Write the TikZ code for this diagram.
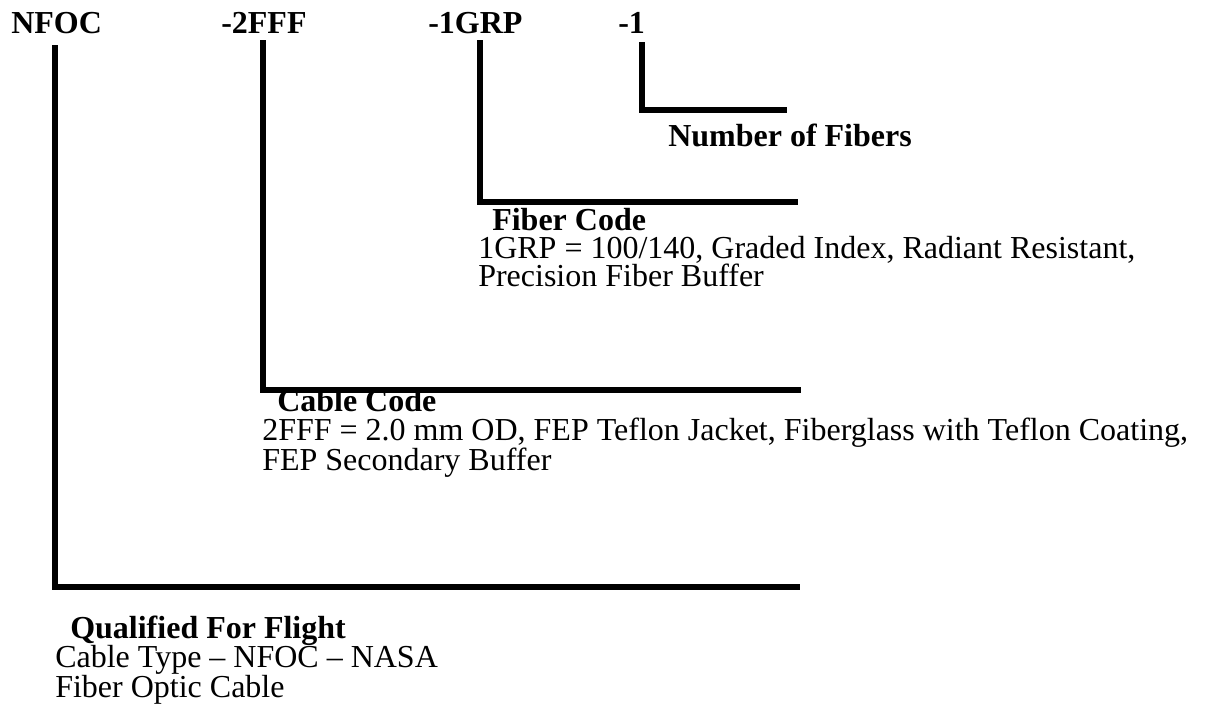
\documentclass[tikz,border=0pt]{standalone}
\usepackage{fontspec}
\setmainfont{Liberation Serif}
\newcommand\tightlines{\lineskiplimit=-100pt\relax\lineskip=0pt\relax}
\begin{document}
\begin{tikzpicture}[x=0.75pt,y=-0.75pt,
  lead/.style={line width=4.5pt,line join=miter,line cap=butt},
  code/.style={font=\bfseries\fontsize{24}{28}\selectfont,anchor=base west,inner sep=0pt},
  head/.style={font=\bfseries\fontsize{24}{28}\selectfont,anchor=base west,inner sep=0pt},
  desc/.style={font={\fontsize{24}{#1}\selectfont\tightlines},
    anchor=base west,inner sep=0pt,align=left}]
\useasboundingbox (0,0) rectangle (1212,714);
% top codes
\node[code] (nfoc) at (11,33) {NFOC};
\node[code] (cable) at (221,33) {-2FFF};
\node[code] (fiber) at (428,33) {-1GRP};
\node[code] (num) at (618,33) {-1};
% descriptions (anchor = baseline of last line)
\node[head] (numh) at (668,146) {Number of Fibers};
\node[desc=21pt] (fibd) at (478,286)
  {\hspace*{10.5pt}\textbf{Fiber Code}\\
   1GRP = 100/140, Graded Index, Radiant Resistant,\\
   Precision Fiber Buffer};
\node[desc=22pt] (cabd) at (262,470)
  {\hspace*{11.25pt}\textbf{Cable Code}\\
   2FFF = 2.0 mm OD, FEP Teflon Jacket, Fiberglass with Teflon Coating,\\
   FEP Secondary Buffer};
\node[desc=22pt] (quald) at (55,697)
  {\hspace*{11.25pt}\textbf{Qualified For Flight}\\
   Cable Type -- NFOC -- NASA\\
   Fiber Optic Cable};
% leader coordinates
\coordinate (t1) at (55,45);   \coordinate (k1) at (55,587);  \coordinate (e1) at (800,587);
\coordinate (t2) at (263,40);  \coordinate (k2) at (263,390); \coordinate (e2) at (801,390);
\coordinate (t3) at (480,40);  \coordinate (k3) at (480,202); \coordinate (e3) at (798,202);
\coordinate (t4) at (642,42);  \coordinate (k4) at (642,110); \coordinate (e4) at (787,110);
\draw[lead] (t1) -- (k1) -- (e1);
\draw[lead] (t2) -- (k2) -- (e2);
\draw[lead] (t3) -- (k3) -- (e3);
\draw[lead] (t4) -- (k4) -- (e4);
\end{tikzpicture}
\end{document}
